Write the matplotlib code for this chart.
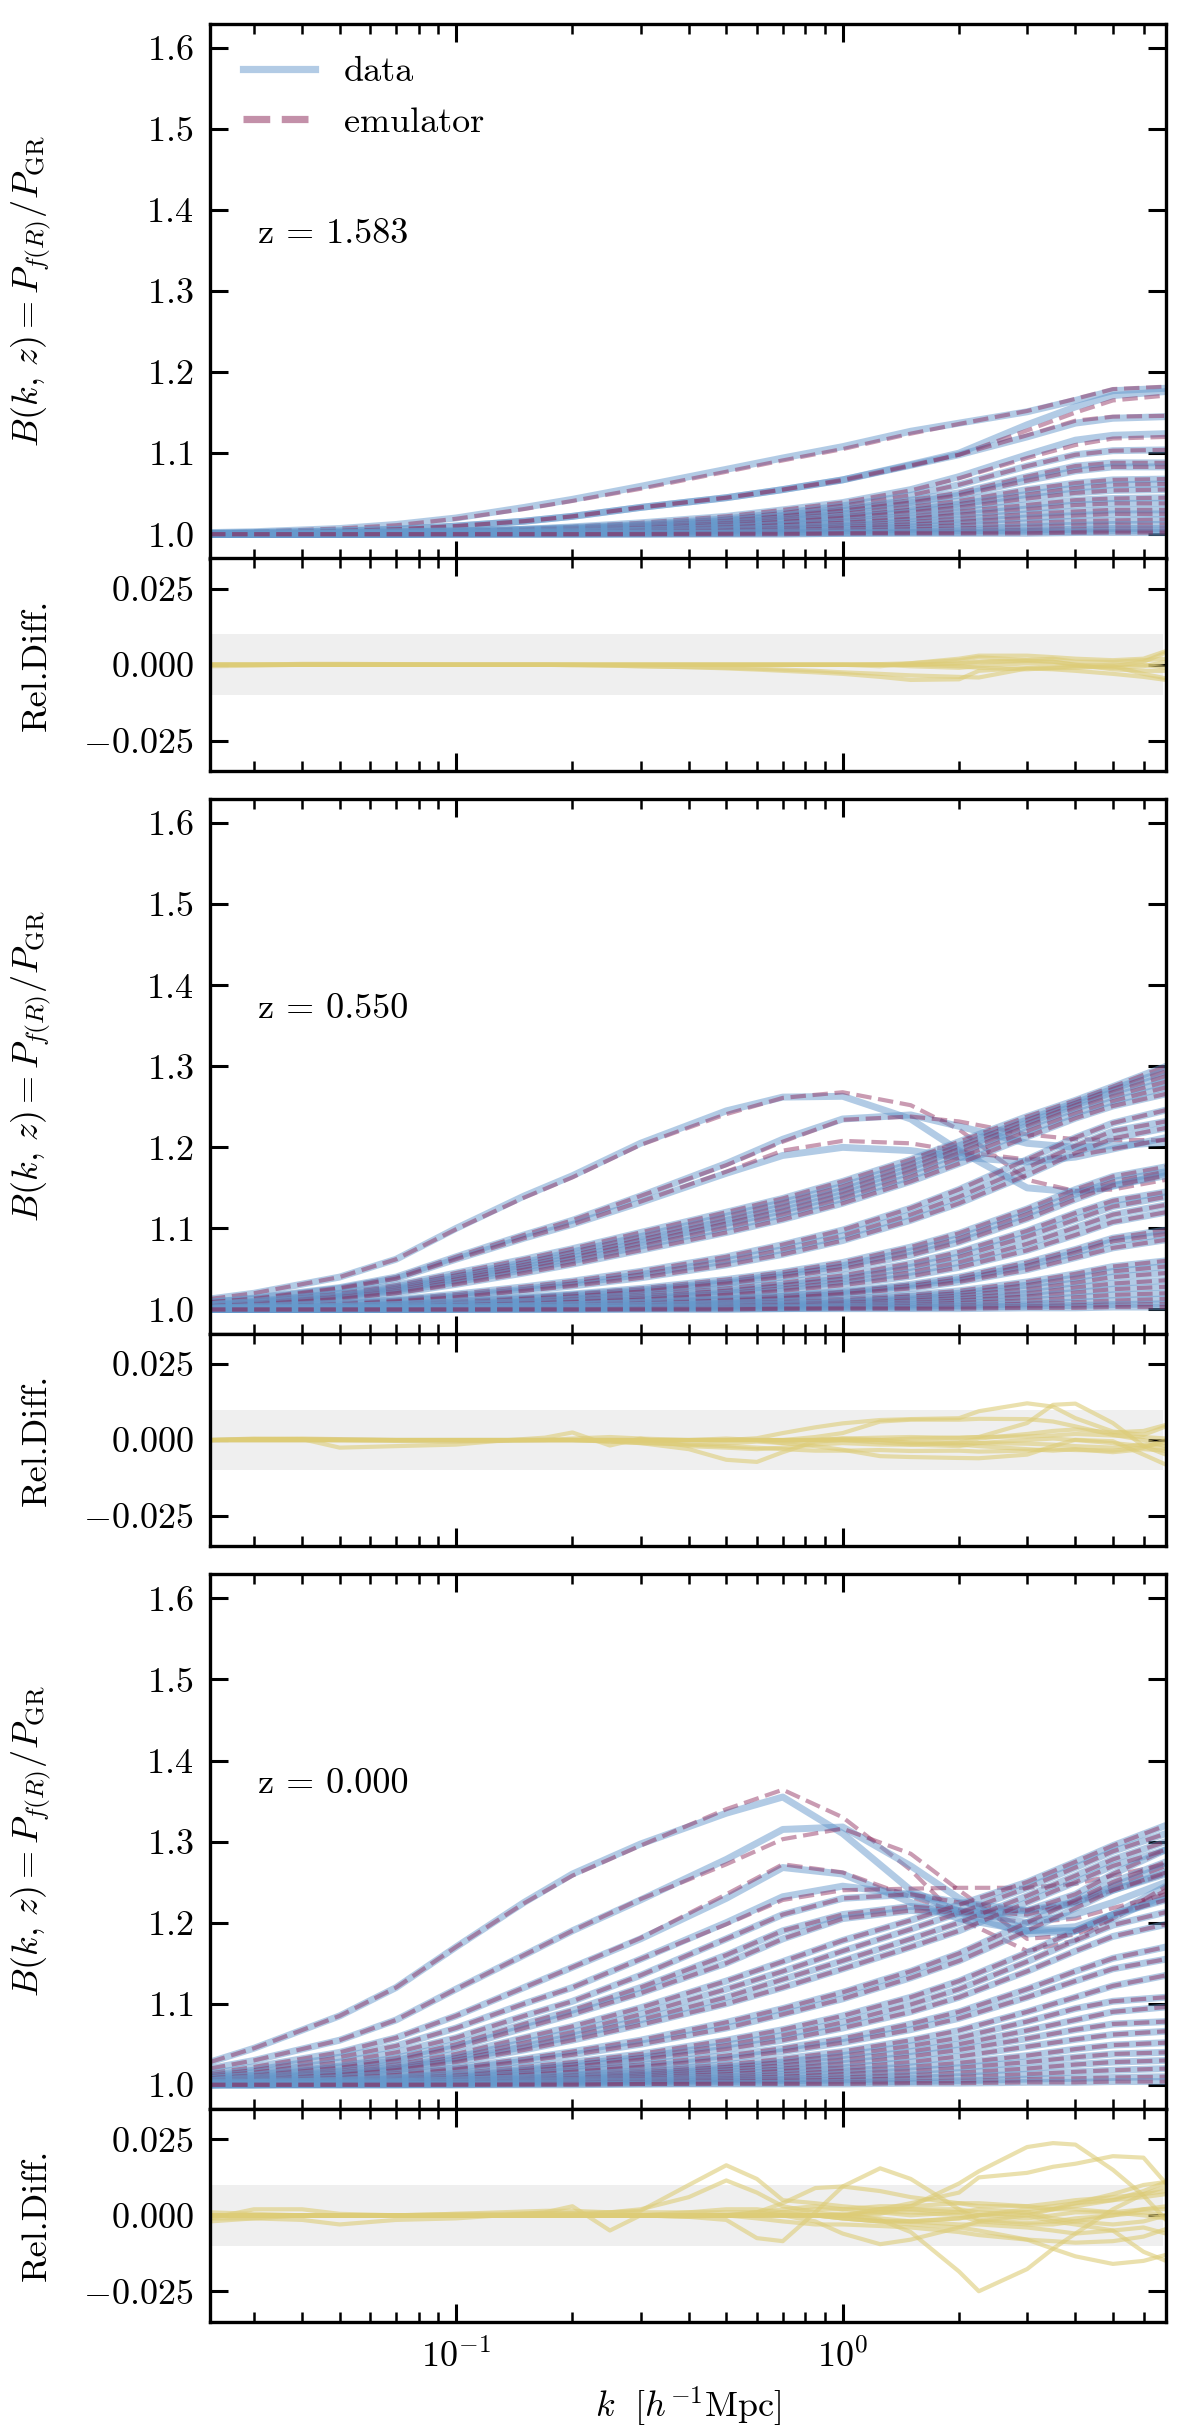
import numpy as np
import matplotlib
matplotlib.use("Agg")
import matplotlib.pyplot as plt
from matplotlib.lines import Line2D
from matplotlib.ticker import MultipleLocator, NullFormatter, FixedLocator, FuncFormatter

# k grid for the main panels (h/Mpc)
K = [0.0231, 0.03, 0.05, 0.07, 0.1, 0.15, 0.2, 0.3, 0.5, 0.7, 1.0, 1.5, 2.0, 3.0, 4.0, 5.0, 6.86]
# k grid for the relative difference panels
KR = [0.0231, 0.03, 0.04, 0.05, 0.07, 0.1, 0.13, 0.17, 0.2, 0.25, 0.3, 0.4, 0.5, 0.6, 0.7,
      0.85, 1.0, 1.25, 1.5, 2.0, 2.25, 3.0, 3.5, 4.0, 5.0, 6.0, 6.86]

redshifts = ["1.583", "0.550", "0.000"]

# ---- z = 1.583 ----
b_z1583 = [
    [1.002, 1.003, 1.007, 1.012, 1.020, 1.033, 1.043, 1.059, 1.080, 1.094, 1.108, 1.127, 1.137, 1.151, 1.165, 1.177, 1.180],
    [1.001, 1.002, 1.004, 1.006, 1.010, 1.016, 1.022, 1.033, 1.045, 1.055, 1.067, 1.086, 1.100, 1.135, 1.157, 1.171, 1.176],
    [1.001, 1.002, 1.004, 1.006, 1.010, 1.016, 1.022, 1.033, 1.045, 1.055, 1.067, 1.085, 1.098, 1.120, 1.137, 1.143, 1.145],
    [1.000, 1.001, 1.002, 1.003, 1.004, 1.006, 1.009, 1.014, 1.022, 1.030, 1.039, 1.055, 1.071, 1.098, 1.116, 1.122, 1.124],
    [1.000, 1.001, 1.002, 1.003, 1.004, 1.006, 1.008, 1.012, 1.019, 1.026, 1.035, 1.048, 1.061, 1.084, 1.098, 1.103, 1.104],
    [1.000, 1.000, 1.001, 1.002, 1.003, 1.005, 1.007, 1.011, 1.017, 1.023, 1.031, 1.042, 1.051, 1.071, 1.084, 1.088, 1.088],
    [1.000, 1.000, 1.001, 1.002, 1.003, 1.005, 1.007, 1.010, 1.016, 1.022, 1.029, 1.039, 1.048, 1.066, 1.078, 1.083, 1.083],
    [1.000, 1.000, 1.001, 1.001, 1.002, 1.004, 1.006, 1.009, 1.014, 1.019, 1.025, 1.034, 1.041, 1.055, 1.063, 1.067, 1.068],
    [1.000, 1.000, 1.001, 1.001, 1.002, 1.003, 1.005, 1.008, 1.013, 1.017, 1.022, 1.030, 1.037, 1.049, 1.057, 1.061, 1.062],
    [1.000, 1.000, 1.000, 1.001, 1.002, 1.003, 1.004, 1.007, 1.011, 1.015, 1.020, 1.027, 1.033, 1.044, 1.051, 1.054, 1.055],
    [1.000, 1.000, 1.000, 1.001, 1.001, 1.002, 1.003, 1.005, 1.009, 1.012, 1.016, 1.022, 1.028, 1.036, 1.042, 1.044, 1.045],
    [1.000, 1.000, 1.000, 1.001, 1.001, 1.002, 1.003, 1.005, 1.008, 1.011, 1.014, 1.019, 1.024, 1.031, 1.036, 1.038, 1.038],
    [1.000, 1.000, 1.000, 1.000, 1.001, 1.002, 1.002, 1.004, 1.006, 1.008, 1.011, 1.015, 1.019, 1.025, 1.028, 1.030, 1.030],
    [1.000, 1.000, 1.000, 1.000, 1.001, 1.001, 1.002, 1.003, 1.005, 1.007, 1.009, 1.012, 1.015, 1.020, 1.023, 1.025, 1.025],
    [1.000, 1.000, 1.000, 1.000, 1.001, 1.001, 1.001, 1.002, 1.004, 1.005, 1.007, 1.009, 1.011, 1.014, 1.016, 1.017, 1.018],
    [1.000, 1.000, 1.000, 1.000, 1.000, 1.001, 1.001, 1.001, 1.002, 1.003, 1.004, 1.006, 1.007, 1.009, 1.011, 1.012, 1.012],
    [1.000, 1.000, 1.000, 1.000, 1.000, 1.000, 1.000, 1.001, 1.001, 1.002, 1.002, 1.003, 1.004, 1.005, 1.006, 1.007, 1.007],
    [1.000, 1.000, 1.000, 1.000, 1.000, 1.000, 1.000, 1.000, 1.001, 1.001, 1.001, 1.002, 1.002, 1.003, 1.003, 1.004, 1.004],
    [1.000, 1.000, 1.000, 1.000, 1.000, 1.000, 1.000, 1.000, 1.000, 1.000, 1.001, 1.001, 1.001, 1.001, 1.002, 1.002, 1.002],
]
e_z1583_top = [
    [1.002, 1.003, 1.007, 1.011, 1.019, 1.031, 1.041, 1.056, 1.077, 1.091, 1.105, 1.124, 1.136, 1.152, 1.167, 1.179, 1.182],
    [1.001, 1.002, 1.004, 1.006, 1.010, 1.016, 1.022, 1.033, 1.045, 1.055, 1.066, 1.084, 1.098, 1.128, 1.150, 1.165, 1.171],
    [1.001, 1.002, 1.004, 1.006, 1.010, 1.016, 1.022, 1.033, 1.045, 1.055, 1.067, 1.085, 1.098, 1.122, 1.140, 1.145, 1.146],
    [1.000, 1.001, 1.002, 1.003, 1.004, 1.006, 1.009, 1.014, 1.022, 1.030, 1.039, 1.054, 1.069, 1.094, 1.110, 1.118, 1.120],
]
e_z1583 = e_z1583_top + b_z1583[4:]

# ---- z = 0.550 ----
b_z0550 = [
    [1.013, 1.020, 1.040, 1.062, 1.100, 1.140, 1.165, 1.205, 1.245, 1.262, 1.263, 1.235, 1.196, 1.150, 1.145, 1.152, 1.168],
    [1.009, 1.014, 1.027, 1.040, 1.065, 1.092, 1.110, 1.140, 1.180, 1.210, 1.235, 1.240, 1.226, 1.205, 1.200, 1.202, 1.206],
    [1.009, 1.013, 1.026, 1.038, 1.062, 1.088, 1.105, 1.132, 1.168, 1.190, 1.200, 1.196, 1.188, 1.182, 1.188, 1.198, 1.212],
    [1.006, 1.010, 1.020, 1.030, 1.045, 1.062, 1.075, 1.095, 1.120, 1.137, 1.158, 1.185, 1.207, 1.238, 1.258, 1.275, 1.300],
    [1.006, 1.009, 1.019, 1.028, 1.042, 1.058, 1.071, 1.090, 1.115, 1.132, 1.152, 1.180, 1.202, 1.234, 1.255, 1.272, 1.294],
    [1.005, 1.008, 1.017, 1.026, 1.039, 1.055, 1.067, 1.086, 1.110, 1.127, 1.147, 1.175, 1.198, 1.230, 1.252, 1.268, 1.288],
    [1.005, 1.008, 1.016, 1.024, 1.037, 1.052, 1.064, 1.082, 1.106, 1.122, 1.142, 1.170, 1.193, 1.226, 1.248, 1.263, 1.281],
    [1.004, 1.007, 1.015, 1.022, 1.034, 1.049, 1.060, 1.078, 1.101, 1.117, 1.137, 1.164, 1.187, 1.220, 1.242, 1.257, 1.274],
    [1.004, 1.006, 1.013, 1.020, 1.031, 1.045, 1.056, 1.073, 1.095, 1.111, 1.131, 1.158, 1.180, 1.213, 1.236, 1.251, 1.266],
    [1.002, 1.004, 1.008, 1.012, 1.019, 1.028, 1.035, 1.047, 1.065, 1.080, 1.098, 1.125, 1.148, 1.185, 1.212, 1.230, 1.246],
    [1.002, 1.003, 1.007, 1.011, 1.017, 1.025, 1.032, 1.043, 1.060, 1.074, 1.091, 1.117, 1.139, 1.175, 1.202, 1.220, 1.232],
    [1.002, 1.003, 1.006, 1.010, 1.015, 1.023, 1.029, 1.039, 1.055, 1.068, 1.085, 1.110, 1.131, 1.166, 1.193, 1.211, 1.224],
    [1.001, 1.002, 1.004, 1.006, 1.010, 1.015, 1.019, 1.026, 1.037, 1.046, 1.058, 1.077, 1.094, 1.124, 1.148, 1.164, 1.176],
    [1.001, 1.002, 1.004, 1.006, 1.009, 1.014, 1.018, 1.024, 1.034, 1.043, 1.054, 1.072, 1.088, 1.118, 1.142, 1.158, 1.170],
    [1.001, 1.002, 1.003, 1.005, 1.008, 1.013, 1.016, 1.022, 1.032, 1.040, 1.050, 1.067, 1.083, 1.112, 1.136, 1.153, 1.165],
    [1.001, 1.001, 1.003, 1.004, 1.007, 1.010, 1.013, 1.018, 1.026, 1.033, 1.042, 1.057, 1.071, 1.097, 1.119, 1.134, 1.145],
    [1.001, 1.001, 1.002, 1.004, 1.006, 1.009, 1.012, 1.016, 1.023, 1.030, 1.038, 1.052, 1.065, 1.090, 1.111, 1.127, 1.139],
    [1.000, 1.001, 1.002, 1.003, 1.005, 1.008, 1.010, 1.014, 1.020, 1.026, 1.034, 1.046, 1.058, 1.081, 1.101, 1.117, 1.129],
    [1.000, 1.001, 1.002, 1.003, 1.005, 1.007, 1.009, 1.012, 1.018, 1.023, 1.030, 1.041, 1.052, 1.073, 1.092, 1.108, 1.120],
    [1.000, 1.001, 1.001, 1.002, 1.003, 1.005, 1.006, 1.009, 1.013, 1.017, 1.022, 1.031, 1.040, 1.058, 1.074, 1.088, 1.098],
    [1.000, 1.000, 1.001, 1.002, 1.003, 1.004, 1.006, 1.008, 1.012, 1.016, 1.021, 1.029, 1.037, 1.054, 1.070, 1.084, 1.093],
    [1.000, 1.000, 1.001, 1.002, 1.003, 1.004, 1.005, 1.007, 1.011, 1.014, 1.019, 1.026, 1.034, 1.049, 1.064, 1.076, 1.086],
    [1.000, 1.000, 1.001, 1.001, 1.002, 1.003, 1.004, 1.005, 1.008, 1.010, 1.013, 1.018, 1.023, 1.034, 1.044, 1.053, 1.060],
    [1.000, 1.000, 1.001, 1.001, 1.002, 1.003, 1.003, 1.005, 1.007, 1.009, 1.011, 1.016, 1.020, 1.030, 1.039, 1.047, 1.053],
    [1.000, 1.000, 1.000, 1.001, 1.001, 1.002, 1.003, 1.004, 1.006, 1.007, 1.009, 1.013, 1.017, 1.025, 1.033, 1.040, 1.045],
    [1.000, 1.000, 1.000, 1.001, 1.001, 1.002, 1.002, 1.003, 1.005, 1.006, 1.008, 1.011, 1.014, 1.020, 1.027, 1.032, 1.036],
    [1.000, 1.000, 1.000, 1.000, 1.001, 1.001, 1.002, 1.002, 1.004, 1.005, 1.006, 1.008, 1.011, 1.016, 1.021, 1.025, 1.028],
    [1.000, 1.000, 1.000, 1.000, 1.001, 1.001, 1.001, 1.002, 1.003, 1.003, 1.004, 1.006, 1.008, 1.011, 1.015, 1.018, 1.020],
    [1.000, 1.000, 1.000, 1.000, 1.000, 1.001, 1.001, 1.001, 1.002, 1.002, 1.003, 1.004, 1.005, 1.007, 1.009, 1.011, 1.013],
    [1.000, 1.000, 1.000, 1.000, 1.000, 1.000, 1.000, 1.001, 1.001, 1.001, 1.002, 1.002, 1.003, 1.004, 1.005, 1.006, 1.007],
    [1.000, 1.000, 1.000, 1.000, 1.000, 1.000, 1.000, 1.000, 1.000, 1.001, 1.001, 1.001, 1.001, 1.002, 1.002, 1.003, 1.003],
]
e_z0550_top = [
    [1.013, 1.020, 1.040, 1.062, 1.099, 1.138, 1.163, 1.203, 1.241, 1.261, 1.268, 1.252, 1.222, 1.160, 1.146, 1.148, 1.160],
    [1.009, 1.014, 1.027, 1.040, 1.065, 1.092, 1.110, 1.140, 1.178, 1.207, 1.234, 1.238, 1.232, 1.216, 1.210, 1.209, 1.209],
    [1.009, 1.013, 1.026, 1.038, 1.062, 1.088, 1.105, 1.133, 1.170, 1.196, 1.208, 1.205, 1.195, 1.185, 1.190, 1.198, 1.210],
]
e_z0550 = e_z0550_top + b_z0550[3:]

# ---- z = 0.000 ----
b_z0000 = [
    [1.028, 1.045, 1.085, 1.120, 1.170, 1.225, 1.260, 1.297, 1.335, 1.355, 1.310, 1.240, 1.213, 1.186, 1.190, 1.210, 1.245],
    [1.020, 1.030, 1.055, 1.080, 1.118, 1.160, 1.190, 1.228, 1.278, 1.315, 1.318, 1.270, 1.230, 1.190, 1.190, 1.205, 1.235],
    [1.014, 1.022, 1.040, 1.058, 1.085, 1.120, 1.145, 1.180, 1.230, 1.268, 1.260, 1.225, 1.205, 1.190, 1.195, 1.210, 1.230],
    [1.012, 1.018, 1.034, 1.048, 1.070, 1.100, 1.120, 1.155, 1.200, 1.232, 1.245, 1.235, 1.215, 1.200, 1.210, 1.225, 1.250],
    [1.010, 1.015, 1.028, 1.040, 1.058, 1.085, 1.103, 1.135, 1.180, 1.210, 1.230, 1.235, 1.225, 1.215, 1.225, 1.240, 1.260],
    [1.008, 1.012, 1.023, 1.033, 1.050, 1.075, 1.092, 1.120, 1.160, 1.190, 1.210, 1.220, 1.215, 1.210, 1.225, 1.245, 1.270],
    [1.008, 1.011, 1.021, 1.030, 1.046, 1.070, 1.087, 1.113, 1.150, 1.180, 1.205, 1.215, 1.212, 1.215, 1.235, 1.260, 1.290],
    [1.006, 1.009, 1.017, 1.025, 1.038, 1.058, 1.072, 1.095, 1.128, 1.152, 1.178, 1.203, 1.222, 1.250, 1.275, 1.295, 1.320],
    [1.005, 1.008, 1.015, 1.022, 1.034, 1.052, 1.065, 1.087, 1.118, 1.140, 1.165, 1.192, 1.212, 1.243, 1.268, 1.288, 1.310],
    [1.005, 1.007, 1.013, 1.020, 1.031, 1.047, 1.060, 1.080, 1.108, 1.130, 1.153, 1.180, 1.200, 1.233, 1.258, 1.278, 1.300],
    [1.004, 1.006, 1.012, 1.018, 1.028, 1.043, 1.055, 1.074, 1.100, 1.120, 1.143, 1.170, 1.190, 1.225, 1.250, 1.270, 1.290],
    [1.003, 1.005, 1.009, 1.014, 1.021, 1.032, 1.041, 1.055, 1.077, 1.094, 1.114, 1.140, 1.162, 1.200, 1.228, 1.250, 1.275],
    [1.003, 1.004, 1.008, 1.012, 1.019, 1.029, 1.037, 1.050, 1.070, 1.087, 1.106, 1.132, 1.153, 1.190, 1.218, 1.240, 1.262],
    [1.002, 1.003, 1.006, 1.009, 1.014, 1.022, 1.028, 1.038, 1.055, 1.068, 1.085, 1.108, 1.128, 1.163, 1.190, 1.210, 1.228],
    [1.002, 1.003, 1.005, 1.008, 1.012, 1.019, 1.025, 1.034, 1.049, 1.061, 1.077, 1.099, 1.118, 1.152, 1.178, 1.197, 1.213],
    [1.002, 1.003, 1.005, 1.007, 1.011, 1.017, 1.022, 1.031, 1.044, 1.055, 1.070, 1.090, 1.108, 1.140, 1.165, 1.183, 1.198],
    [1.001, 1.002, 1.004, 1.006, 1.009, 1.014, 1.018, 1.025, 1.036, 1.045, 1.057, 1.075, 1.090, 1.118, 1.140, 1.156, 1.170],
    [1.001, 1.002, 1.004, 1.005, 1.008, 1.012, 1.016, 1.022, 1.032, 1.041, 1.052, 1.068, 1.082, 1.108, 1.128, 1.143, 1.155],
    [1.001, 1.002, 1.003, 1.004, 1.006, 1.009, 1.012, 1.017, 1.025, 1.032, 1.041, 1.055, 1.067, 1.090, 1.108, 1.122, 1.135],
    [1.001, 1.001, 1.003, 1.004, 1.006, 1.008, 1.011, 1.015, 1.022, 1.028, 1.036, 1.048, 1.058, 1.078, 1.094, 1.103, 1.108],
    [1.000, 1.001, 1.002, 1.003, 1.005, 1.007, 1.009, 1.013, 1.019, 1.024, 1.031, 1.041, 1.050, 1.067, 1.080, 1.090, 1.096],
    [1.000, 1.001, 1.002, 1.003, 1.004, 1.006, 1.008, 1.011, 1.016, 1.020, 1.026, 1.035, 1.043, 1.057, 1.068, 1.075, 1.078],
    [1.000, 1.001, 1.001, 1.002, 1.003, 1.005, 1.006, 1.009, 1.013, 1.017, 1.021, 1.028, 1.035, 1.047, 1.056, 1.062, 1.066],
    [1.000, 1.000, 1.001, 1.002, 1.003, 1.004, 1.005, 1.007, 1.010, 1.013, 1.017, 1.022, 1.027, 1.036, 1.044, 1.049, 1.052],
    [1.000, 1.000, 1.001, 1.001, 1.002, 1.003, 1.004, 1.005, 1.008, 1.010, 1.013, 1.017, 1.021, 1.028, 1.034, 1.038, 1.040],
    [1.000, 1.000, 1.001, 1.001, 1.001, 1.002, 1.003, 1.004, 1.006, 1.007, 1.009, 1.012, 1.015, 1.020, 1.025, 1.028, 1.030],
    [1.000, 1.000, 1.000, 1.000, 1.001, 1.001, 1.002, 1.003, 1.004, 1.005, 1.006, 1.008, 1.010, 1.013, 1.016, 1.018, 1.020],
    [1.000, 1.000, 1.000, 1.000, 1.000, 1.001, 1.001, 1.001, 1.002, 1.002, 1.003, 1.004, 1.005, 1.007, 1.008, 1.009, 1.010],
    [1.000, 1.000, 1.000, 1.000, 1.000, 1.000, 1.000, 1.001, 1.001, 1.001, 1.001, 1.002, 1.002, 1.003, 1.003, 1.004, 1.004],
]
e_z0000_top = [
    [1.028, 1.045, 1.085, 1.120, 1.170, 1.224, 1.258, 1.295, 1.340, 1.364, 1.330, 1.265, 1.205, 1.165, 1.178, 1.205, 1.245],
    [1.020, 1.030, 1.055, 1.080, 1.118, 1.160, 1.190, 1.229, 1.272, 1.303, 1.316, 1.285, 1.240, 1.180, 1.185, 1.205, 1.240],
    [1.014, 1.022, 1.040, 1.058, 1.085, 1.120, 1.145, 1.181, 1.235, 1.272, 1.262, 1.232, 1.212, 1.200, 1.205, 1.218, 1.235],
    [1.012, 1.018, 1.034, 1.048, 1.070, 1.100, 1.120, 1.155, 1.198, 1.228, 1.240, 1.242, 1.243, 1.243, 1.248, 1.258, 1.272],
]
e_z0000 = e_z0000_top + b_z0000[4:]

# ---- relative differences ----
rd_z1583 = [
    [0.0, 0.0, 0.0, 0.0, 0.0, 0.0, 0.0, 0.0, 0.0, -0.0003, -0.0005, -0.0008, -0.0012, -0.0016, -0.002, -0.0025, -0.003, -0.004, -0.005, -0.0048, -0.002, -0.001, -0.0012, -0.001, -0.0005, 0.001, 0.004],
    [0.0, 0.0, 0.0003, 0.0003, 0.0002, 0.0, 0.0, 0.0, -0.0002, -0.0003, -0.0005, -0.0008, -0.001, -0.0013, -0.0016, -0.002, -0.0025, -0.003, -0.0035, -0.004, -0.0042, -0.0012, -0.0015, -0.002, -0.003, -0.004, -0.005],
    [0.0, 0.0, 0.0, 0.0, 0.0, 0.0, 0.0, 0.0, 0.0, 0.0, 0.0, 0.0, 0.0, 0.0, 0.0, 0.0, 0.0, 0.0002, 0.0005, 0.002, 0.003, 0.003, 0.0025, 0.002, 0.0015, 0.002, 0.0045],
    [0.0, 0.0, 0.0, 0.0, 0.0, 0.0, 0.0, 0.0, 0.0, 0.0, 0.0, 0.0, 0.0, 0.0, 0.0, 0.0, 0.0, -0.0005, 0.0005, 0.0015, 0.0025, 0.0015, 0.001, 0.0, -0.0015, -0.002, -0.002],
    [0.0, 0.0, 0.0, 0.0, 0.0, 0.0, 0.0, 0.0, 0.0, 0.0, 0.0, 0.0, 0.0, 0.0, 0.0, 0.0, 0.0, 0.0, 0.0, 0.0003, 0.0008, 0.0012, 0.001, 0.0, -0.0005, -0.003, -0.0045],
    [-0.0005, -0.0003, 0.0, 0.0, 0.0, 0.0, 0.0, 0.0, 0.0, 0.0, 0.0, 0.0, 0.0, 0.0, 0.0, 0.0, 0.0, 0.0, -0.0005, -0.001, -0.0005, 0.0005, 0.0, -0.0005, -0.001, -0.0005, 0.001],
    [0.0, 0.0, 0.0, 0.0, 0.0, 0.0, 0.0, 0.0, 0.0, 0.0, 0.0, 0.0, 0.0, 0.0, 0.0, 0.0, 0.0, 0.0, 0.0, 0.0005, 0.001, 0.0015, 0.002, 0.001, 0.001, 0.0015, 0.002],
    [0.0, 0.0, 0.0, 0.0, 0.0, 0.0, 0.0, 0.0, 0.0, 0.0, 0.0, 0.0, 0.0, 0.0, 0.0, 0.0, 0.0, 0.0, 0.0, -0.0005, -0.001, -0.0015, -0.001, -0.0005, 0.0, 0.0, -0.001],
]
rd_z0550 = [
    [0.0, 0.0003, 0.0005, 0.0003, 0.0, 0.0, 0.0, 0.0, 0.0, 0.0, 0.0, 0.0, 0.0, 0.0006, 0.0023, 0.0042, 0.0055, 0.0066, 0.0069, 0.0072, 0.0095, 0.0121, 0.011, 0.0072, 0.0028, 0.0017, 0.0045],
    [0.0, 0.0, 0.0, 0.0, 0.0, 0.0, 0.0, 0.0, 0.0, 0.0, 0.0, 0.0, 0.0, 0.0, 0.0, 0.0, 0.0005, 0.0008, 0.001, 0.0007, 0.001, 0.0056, 0.0116, 0.012, 0.0056, -0.002, -0.0048],
    [0.0, 0.0002, 0.0003, 0.0002, 0.0, 0.0, 0.0, 0.0, 0.0, 0.0, 0.0, 0.0, 0.0, 0.0, 0.0, 0.001, 0.0023, 0.0061, 0.0067, 0.0067, 0.007, 0.0069, 0.0061, 0.0045, 0.0017, 0.0, -0.0021],
    [0.0, 0.0, 0.0, 0.0, 0.0, 0.0, 0.0, 0.0, 0.0, -0.0005, -0.001, -0.003, -0.0065, -0.0072, -0.004, -0.0005, 0.0, -0.0008, -0.0015, -0.002, -0.001, 0.0, 0.0005, 0.0, -0.001, -0.002, -0.001],
    [0.0, 0.0, 0.0, 0.0, -0.0003, -0.0005, -0.0003, 0.0, 0.0, -0.0005, -0.001, -0.0015, -0.0012, -0.0005, -0.001, -0.002, -0.0032, -0.0053, -0.0056, -0.0059, -0.006, -0.0048, -0.002, 0.0001, -0.0004, -0.0048, -0.0081],
    [0.0, 0.0005, 0.0003, -0.0025, -0.002, -0.0015, -0.0002, 0.0008, 0.0025, -0.0018, 0.0005, 0.0, 0.0005, 0.0, -0.001, 0.0, 0.0005, 0.0, -0.001, -0.0015, -0.002, -0.003, -0.0035, -0.003, -0.004, -0.003, -0.0035],
    [0.0, 0.0, 0.0, 0.0, 0.0, 0.0, 0.0, 0.0, 0.0, 0.0, -0.0008, -0.0015, -0.002, -0.0025, -0.003, -0.0035, -0.0035, -0.0033, -0.0036, -0.0035, -0.0038, -0.0035, -0.003, -0.0033, -0.0035, -0.0025, 0.0],
    [0.0, 0.0, 0.0, 0.0, 0.0, 0.0, 0.0, 0.0, 0.0005, 0.001, 0.0005, -0.002, -0.0025, -0.003, -0.0025, -0.0015, -0.001, -0.0015, -0.0015, -0.0008, 0.0005, 0.002, 0.003, 0.0035, 0.0025, 0.003, 0.005],
    [0.0, 0.0002, 0.0002, 0.0, 0.0, 0.0, 0.0, 0.0, 0.0, 0.0, 0.0, 0.0, 0.0, 0.0, 0.0, 0.0, 0.0, 0.0, 0.0005, 0.0008, 0.001, 0.0012, 0.0015, 0.002, 0.0015, 0.001, 0.0005],
    [0.0, 0.0, 0.0, 0.0, 0.0, 0.0, 0.0, 0.0, 0.0, 0.0, 0.0, 0.0, 0.0, 0.0, 0.0, 0.0, 0.0, 0.0, -0.0005, -0.0008, -0.001, -0.0012, -0.0015, -0.002, -0.0025, -0.0015, -0.003],
]
rd_z0000 = [
    [0.0, 0.0, 0.0, 0.0, 0.0, 0.0005, 0.0005, 0.0008, 0.0008, 0.001, 0.0015, 0.01, 0.0165, 0.012, 0.005, 0.004, 0.003, 0.002, 0.002, 0.001, 0.0, -0.001, 0.0, 0.001, 0.001, 0.002, 0.002],
    [0.0, 0.0, 0.0, 0.0, 0.0, 0.0, 0.0, 0.0, 0.0, 0.001, 0.002, 0.006, 0.0115, 0.0075, 0.003, 0.001, 0.0, -0.001, -0.002, -0.001, 0.0, 0.001, 0.002, 0.002, 0.001, 0.0, -0.001],
    [0.0, 0.0, 0.0, 0.0, 0.0, 0.0, 0.0, 0.0, 0.0, 0.0, 0.0, -0.0005, -0.0015, -0.0075, -0.0085, 0.001, 0.0095, 0.0155, 0.012, 0.002, -0.0015, -0.0025, -0.002, -0.001, 0.0, 0.001, 0.0],
    [0.0, 0.0, 0.0, 0.0, 0.0, 0.0, 0.0, 0.0, 0.0, 0.0, 0.0, 0.0, 0.0, 0.0, 0.0, 0.0, 0.0005, -0.0015, -0.0055, -0.0185, -0.025, -0.0177, -0.011, -0.006, 0.002, 0.007, 0.0095],
    [0.0, 0.0, 0.0, 0.0, 0.0, 0.0, 0.0, 0.0, 0.0, 0.0, 0.0, 0.0, 0.0, 0.0, 0.0, 0.0, 0.0, 0.0005, 0.003, 0.0105, 0.0145, 0.0225, 0.0238, 0.0233, 0.015, 0.0065, -0.0015],
    [0.0, 0.0, 0.0, 0.0, 0.0, 0.0, 0.0, 0.0, 0.0, 0.0, 0.0, 0.0, 0.0, 0.0, 0.0, 0.0, 0.0, 0.002, 0.004, 0.0075, 0.0125, 0.014, 0.016, 0.017, 0.0195, 0.019, 0.0105],
    [0.0, 0.0, 0.0, 0.0, 0.0, 0.0, 0.0, 0.0, 0.0, 0.0, 0.0, 0.0, 0.0, -0.001, -0.002, -0.003, -0.003, -0.0035, -0.004, -0.0055, -0.0065, -0.008, -0.0085, -0.009, -0.0085, -0.007, -0.0045],
    [0.0, 0.0, 0.0, 0.0, 0.0, 0.0, 0.0, 0.0, 0.0, 0.0, 0.0, 0.0, 0.0, 0.0, 0.0, 0.0, -0.001, -0.002, -0.003, -0.004, -0.005, -0.008, -0.011, -0.0135, -0.016, -0.015, -0.013],
    [0.0, 0.0, 0.0, 0.0, 0.0, 0.0, 0.0, 0.001, 0.003, -0.005, 0.0, 0.001, 0.001, 0.001, 0.0, 0.0, -0.001, -0.002, -0.002, -0.001, 0.0, 0.002, 0.003, 0.004, 0.005, 0.008, 0.011],
    [-0.001, -0.001, -0.0015, -0.003, -0.0015, -0.001, 0.0, 0.0, 0.0, 0.0, 0.0, 0.0, 0.0, 0.0, 0.0, 0.0, 0.0, 0.001, 0.001, 0.0, -0.002, -0.003, -0.003, -0.002, 0.0, 0.002, 0.003],
    [-0.001, 0.002, 0.002, 0.0005, 0.0, 0.0, 0.0, 0.0, 0.0, 0.0, 0.0, 0.0, 0.0, 0.0, 0.001, 0.002, 0.002, 0.003, 0.003, 0.004, 0.004, 0.003, 0.002, 0.003, 0.005, 0.006, 0.007],
    [0.0, 0.0, 0.0, 0.0, 0.0, 0.0, 0.0, 0.0, 0.0, 0.0, 0.0, 0.0, 0.0, 0.0, 0.0, -0.002, -0.006, -0.0095, -0.008, -0.004, -0.002, 0.0, 0.002, 0.004, 0.007, 0.01, 0.011],
    [0.0, 0.0, 0.0, 0.0, 0.0, 0.0, 0.0, 0.0, 0.0, 0.0, 0.0, 0.0, 0.0, 0.001, 0.004, 0.009, 0.0095, 0.008, 0.006, 0.004, 0.003, 0.003, 0.004, 0.005, 0.006, 0.007, 0.008],
    [0.0, 0.0, 0.0, 0.0, 0.0, 0.0, 0.0, 0.0, 0.0, 0.0, 0.0, 0.0, 0.0, 0.0, 0.0, 0.0, 0.0, 0.002, 0.002, 0.002, 0.001, 0.0, -0.002, -0.003, -0.005, -0.012, -0.015],
    [0.001, 0.0005, 0.0, 0.0, 0.0, 0.0005, 0.001, 0.0015, 0.0015, 0.001, 0.001, 0.001, 0.002, 0.002, 0.001, 0.0, -0.001, -0.002, -0.002, -0.003, -0.003, -0.004, -0.005, -0.006, -0.005, -0.004, -0.006],
    [-0.002, -0.001, 0.0, 0.0, 0.0, 0.0, 0.0, 0.0005, 0.0005, 0.0, 0.0, -0.0005, 0.0, 0.001, 0.002, 0.003, 0.002, 0.001, 0.0, 0.001, 0.002, 0.001, -0.001, -0.002, -0.003, -0.002, 0.0],
]

data_sets = [b_z1583, b_z0550, b_z0000]
emu_sets = [e_z1583, e_z0550, e_z0000]
rd_sets = [rd_z1583, rd_z0550, rd_z0000]

band_k = [0.0234, 6.72]

c_data = "#6699CC"
c_emu = "#882255"
c_res = "#DDCC77"

plt.rcParams.update({
    "font.family": "serif",
    "font.serif": ["cmr10"],
    "mathtext.fontset": "cm",
    "axes.formatter.use_mathtext": True,
    "font.size": 13,
    "axes.linewidth": 1.2,
    "xtick.direction": "in",
    "ytick.direction": "in",
    "xtick.top": True,
    "ytick.right": True,
    "xtick.major.size": 6.5,
    "ytick.major.size": 6.5,
    "xtick.minor.size": 3.5,
    "ytick.minor.size": 3.5,
    "xtick.major.width": 1.1,
    "ytick.major.width": 1.1,
    "xtick.minor.width": 0.9,
    "xtick.major.pad": 6,
    "ytick.major.pad": 6,
})

W, H = 1200, 2436
fig = plt.figure(figsize=(W / 200, H / 200), dpi=200)

left, width = 210 / W, 956 / W
tops = [23.5, 798.8, 1574.1]
main_h, res_h = 535.0, 212.5


def res_fmt(v, pos):
    return r"$%.3f$" % v if abs(v) > 1e-9 else r"$0.000$"


for i, top in enumerate(tops):
    ax = fig.add_axes([left, 1 - (top + main_h) / H, width, main_h / H])
    axr = fig.add_axes([left, 1 - (top + main_h + res_h) / H, width, res_h / H], sharex=ax)

    # data and emulator drawn pair by pair, as the curves were produced
    for d, e in zip(data_sets[i], emu_sets[i]):
        ax.plot(K, d, color=c_data, alpha=0.5, lw=2.5, solid_capstyle="butt")
        ax.plot(K, e, color=c_emu, alpha=0.45, lw=1.5, ls="--")

    ax.set_xscale("log")
    ax.set_xlim(0.0231, 6.86)
    ax.set_ylim(0.97, 1.63)
    ax.yaxis.set_major_locator(MultipleLocator(0.1))
    ax.tick_params(labelbottom=False)
    ax.xaxis.set_minor_formatter(NullFormatter())
    ax.text(0.05, 0.607, "z = " + redshifts[i], transform=ax.transAxes, va="center", fontsize=13)
    ax.set_ylabel(r"$B(k,\,z) = P_{f(R)}/P_{\rm GR}$", fontsize=13)
    ax.yaxis.set_label_coords(-0.164, 0.5)

    axr.fill_between(band_k, -0.01, 0.01, color="grey", alpha=0.12, lw=0)
    for curve in rd_sets[i]:
        axr.plot(KR, curve, color=c_res, alpha=0.6, lw=1.5)
    axr.set_ylim(-0.035, 0.035)
    axr.yaxis.set_major_locator(FixedLocator([-0.025, 0.0, 0.025]))
    axr.yaxis.set_major_formatter(FuncFormatter(res_fmt))
    axr.xaxis.set_minor_formatter(NullFormatter())
    axr.set_ylabel("Rel.Diff.", fontsize=13)
    axr.yaxis.set_label_coords(-0.164, 0.5)
    if i < 2:
        axr.tick_params(labelbottom=False)
    else:
        axr.set_xlabel(r"$k\ \ [h^{-1}\mathrm{Mpc}]$", fontsize=13)

    if i == 0:
        handles = [Line2D([], [], color=c_data, alpha=0.5, lw=2.6),
                   Line2D([], [], color=c_emu, alpha=0.5, lw=2.6, ls="--")]
        ax.legend(handles, ["data", "emulator"], loc="upper left", frameon=False, fontsize=13)

fig.savefig("out.png", dpi=200)
